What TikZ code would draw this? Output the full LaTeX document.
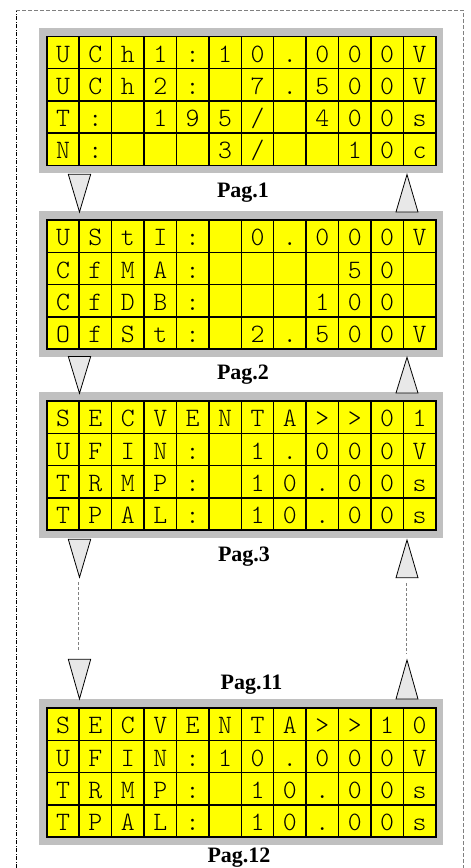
\documentclass[tikz,border=0pt]{standalone}
\usepackage{fontspec}
\setmainfont{Liberation Serif}
\newfontfamily\lcdfont{Latin Modern Mono Light}
\definecolor{lcdyellow}{HTML}{FFFF00}
\definecolor{panelgray}{HTML}{C0C0C0}
\definecolor{trifill}{HTML}{E8E8E8}
\definecolor{dashgray}{HTML}{808080}
\tikzset{
  panelbox/.style={fill=panelgray, draw=none, minimum width=404.4pt, minimum height=145.7pt, inner sep=0pt},
  lcdcell/.style={fill=lcdyellow, draw=black, line width=1.5pt, minimum width=32.42pt, minimum height=32.25pt,
    inner sep=0pt, text height=19.2pt, text depth=0pt, font=\lcdfont\fontsize{26.5pt}{26.5pt}\selectfont},
  paglabel/.style={font=\bfseries\fontsize{22pt}{22pt}\selectfont, inner sep=0pt},
  tri/.style={fill=trifill, draw=black, line width=0.8pt, line join=miter},
  linkline/.style={draw=dashgray, line width=0.9pt, dash pattern=on 3pt off 2pt},
}
\newcommand\lcdpanel[6]{%
  \node[panelbox, anchor=north west] (#1) at (38.3,#2-8.4) {};
  \foreach \row [count=\r] in {{#3},{#4},{#5},{#6}} {
    \foreach \ch [count=\c] in \row {
      \node[lcdcell, anchor=north west] (#1-\r-\c) at ({46+(\c-1)*32.42}, {#2+(\r-1)*32.25}) {\ch};
    }
  }%
}
\begin{document}
\begin{tikzpicture}[x=1pt,y=-1pt]
\useasboundingbox (0,0) rectangle (471,868);
% outer frame
\coordinate (fa) at (16,868);
\coordinate (fb) at (16,10);
\coordinate (fc) at (463,10);
\coordinate (fd) at (463,868);
\draw[black, line width=0.8pt, dash pattern=on 4pt off 1.5pt on 1pt off 1.5pt] (fa) -- (fb);
\draw[gray, line width=0.9pt, dash pattern=on 4pt off 2pt] (fb) -- (fc) -- (fd);
% panels
\lcdpanel{pA}{35.7}{U,C,h,1,:,1,0,.,0,0,0,V}{U,C,h,2,:,{},7,.,5,0,0,V}{T,:,{},1,9,5,/,{},4,0,0,s}{N,:,{},{},{},3,/,{},{},1,0,c}
\lcdpanel{pB}{219.3}{U,S,t,I,:,{},0,.,0,0,0,V}{C,f,M,A,:,{},{},{},{},5,0,{}}{C,f,D,B,:,{},{},{},1,0,0,{}}{O,f,S,t,:,{},2,.,5,0,0,V}
\lcdpanel{pC}{400.3}{S,E,C,V,E,N,T,A,>,>,0,1}{U,F,I,N,:,{},1,.,0,0,0,V}{T,R,M,P,:,{},1,0,.,0,0,s}{T,P,A,L,:,{},1,0,.,0,0,s}
\lcdpanel{pD}{707.3}{S,E,C,V,E,N,T,A,>,>,1,0}{U,F,I,N,:,1,0,.,0,0,0,V}{T,R,M,P,:,{},1,0,.,0,0,s}{T,P,A,L,:,{},1,0,.,0,0,s}
% labels
\node[paglabel, anchor=base] (lab1) at (243,197.3) {Pag.1};
\node[paglabel, anchor=base] (lab2) at (243,379.3) {Pag.2};
\node[paglabel, anchor=base] (lab3) at (244,561.7) {Pag.3};
\node[paglabel, anchor=base] (lab11) at (251.5,689.5) {Pag.11};
\node[paglabel, anchor=base] (lab12) at (239,862.7) {Pag.12};
% down triangles (left)
\draw[tri] (68.3,174.3) -- (90.7,174.3) -- (79.5,212) -- cycle;
\draw[tri] (68.3,356.5) -- (90.7,356.5) -- (79.5,393.3) -- cycle;
\draw[tri] (68.3,539.3) -- (90.7,539.3) -- (79.5,577.3) -- cycle;
\draw[tri] (68.3,659.3) -- (90.7,659.3) -- (79.5,699) -- cycle;
% up triangles (right)
\draw[tri] (396,212) -- (418,212) -- (407,174.5) -- cycle;
\draw[tri] (396,393) -- (418,393) -- (407,357.3) -- cycle;
\draw[tri] (396,577.7) -- (418,577.7) -- (407,540) -- cycle;
\draw[tri] (396,699) -- (418,699) -- (407,660) -- cycle;
% dashed links
\coordinate (la) at (78.3,582);
\coordinate (lb) at (78.3,650);
\coordinate (ra) at (406.7,583.3);
\coordinate (rb) at (406.7,654);
\draw[linkline] (la) -- (lb);
\draw[linkline] (ra) -- (rb);
\end{tikzpicture}
\end{document}
